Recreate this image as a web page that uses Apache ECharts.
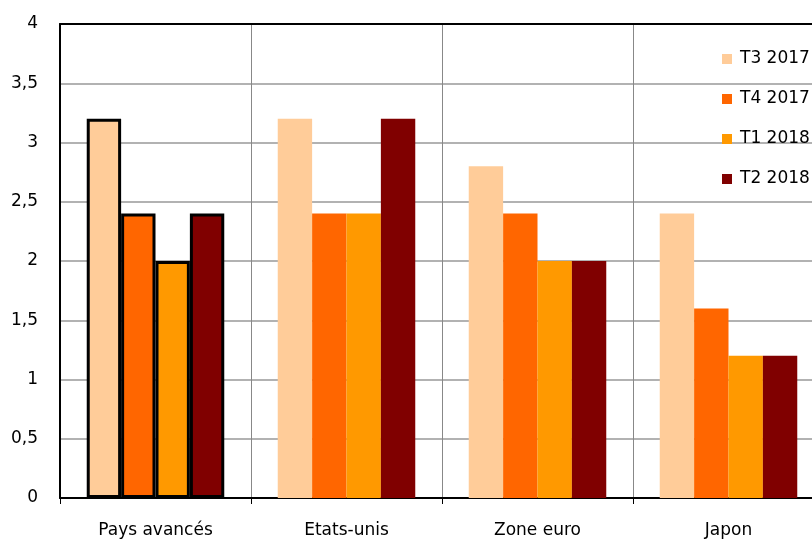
<!DOCTYPE html>
<html>
<head>
<meta charset="utf-8">
<script src="https://cdn.jsdelivr.net/npm/echarts@6/dist/echarts.min.js"></script>
<style>html,body{margin:0;padding:0;background:#fff}#c{width:812px;height:540px}</style>
</head>
<body>
<div id="c"></div>
<script>
var categories = ['Pays avancés', 'Etats-unis', 'Zone euro', 'Japon'];
var seriesNames = ['T3 2017', 'T4 2017', 'T1 2018', 'T2 2018'];
var t3_2017 = [3.2, 3.2, 2.8, 2.4];
var t4_2017 = [2.4, 2.4, 2.4, 1.6];
var t1_2018 = [2.0, 2.4, 2.0, 1.2];
var t2_2018 = [2.4, 3.2, 2.0, 1.2];
var colors = ['#FFCC99', '#FF6600', '#FF9900', '#800000'];
var yTicks = { min: 0, max: 4, interval: 0.5 };

var values = [t3_2017, t4_2017, t1_2018, t2_2018];
var font = 'DejaVu Sans, sans-serif';

var series = seriesNames.map(function (name, i) {
  return {
    name: name,
    type: 'bar',
    barGap: '0%',
    barCategoryGap: '28%',
    itemStyle: { color: colors[i] },
    data: values[i].map(function (v, j) {
      if (j === 0) {
        return { value: v, itemStyle: { borderColor: '#000', borderWidth: 3 } };
      }
      return v;
    })
  };
});

var chart = echarts.init(document.getElementById('c'));
chart.setOption({
  animation: false,
  backgroundColor: '#fff',
  textStyle: { fontFamily: font },
  grid: { left: 60, top: 24, width: 764, height: 474, containLabel: false, outerBoundsMode: 'none' },
  legend: {
    orient: 'vertical',
    left: 717,
    top: 45,
    itemWidth: 10,
    itemHeight: 10,
    itemGap: 22,
    icon: 'rect',
    data: seriesNames,
    textStyle: { fontFamily: font, fontSize: 17, color: '#000', lineHeight: 18, padding: [0, 0, 0, 3] }
  },
  xAxis: [{
    type: 'category',
    data: categories,
    axisLine: { lineStyle: { color: '#000', width: 2 } },
    axisTick: { show: true, length: 6, lineStyle: { color: '#000', width: 1 } },
    axisLabel: { fontFamily: font, fontSize: 17, color: '#000', margin: 24 },
    splitLine: { show: true, lineStyle: { color: '#888', width: 1 } }
  }, {
    type: 'category',
    position: 'top',
    data: categories,
    axisLine: { show: true, lineStyle: { color: '#000', width: 2 } },
    axisTick: { show: false },
    axisLabel: { show: false },
    splitLine: { show: false }
  }],
  yAxis: {
    type: 'value',
    min: yTicks.min,
    max: yTicks.max,
    interval: yTicks.interval,
    axisLine: { show: true, lineStyle: { color: '#000', width: 2 } },
    axisTick: { show: false },
    axisLabel: {
      fontFamily: font, fontSize: 17, color: '#000', margin: 22,
      formatter: function (v) { return String(v).replace('.', ','); }
    },
    splitLine: { show: true, lineStyle: { color: '#999', width: 1.5 } }
  },
  series: series
});
</script>
</body>
</html>
